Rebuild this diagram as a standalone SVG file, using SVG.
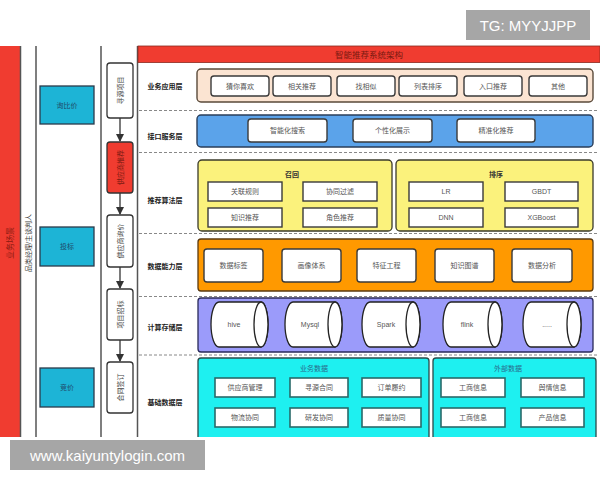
<svg xmlns="http://www.w3.org/2000/svg" width="600" height="480" viewBox="0 0 600 480">
<defs>
<marker id="arr" markerWidth="8" markerHeight="8" refX="7" refY="4" orient="auto" markerUnits="userSpaceOnUse">
<path d="M0,0 L8,4 L0,8 Z" fill="#333"/>
</marker>
<style>
text{font-family:'Liberation Sans','Noto Sans CJK SC',sans-serif;text-anchor:middle;dominant-baseline:central}
.lane{stroke:#555;stroke-width:1.5;fill:none}
.sep{stroke:#888;stroke-width:1;stroke-dasharray:3,2;fill:none}
.item{fill:#fff;stroke:#3a3a3a;stroke-width:1.4}
.it{font-size:7px;fill:#555}
.lbl{font-size:7px;font-weight:bold;fill:#222}
.ttl{font-size:7px;font-weight:bold;fill:#333}
.step{fill:#fff;stroke:#333;stroke-width:1.3}
.stept{font-size:7px;fill:#444}
.bluebox{fill:#1db4d6;stroke:#2a3a4a;stroke-width:1.3}
.cyl{fill:#fff;stroke:#222;stroke-width:1.3}
.teal{fill:#fff;stroke:#2a6a6a;stroke-width:1.6}
</style>
</defs>
<rect width="600" height="480" fill="#fff"/>

<!-- left swimlanes -->
<g id="lanes">
<rect x="0" y="46" width="20" height="391" fill="#f03c30"/>
<line class="lane" x1="20.5" y1="46" x2="20.5" y2="437"/>
<line class="lane" x1="36" y1="46" x2="36" y2="437"/>
<line class="lane" x1="101" y1="46" x2="101" y2="437"/>
<line class="lane" x1="137.5" y1="46" x2="137.5" y2="437"/>
<text x="10" y="243" transform="rotate(-90 10 243)" style="font-size:8px;fill:#8a1a10">业务场景</text>
<text x="28" y="243" transform="rotate(-90 28 243)" style="font-size:7px;fill:#444">品类经理/主谈判人</text>
</g>

<g id="n-xunbijia"><rect class="bluebox" x="40" y="86" width="54" height="38"/><text x="67" y="105" class="stept" style="fill:#1f4a6a">询比价</text></g>
<g id="n-toubiao"><rect class="bluebox" x="40" y="227" width="54" height="39"/><text x="67" y="246.5" class="stept" style="fill:#1f4a6a">投标</text></g>
<g id="n-jingjia"><rect class="bluebox" x="40" y="368" width="54" height="39"/><text x="67" y="387.5" class="stept" style="fill:#1f4a6a">竞价</text></g>

<g id="n-s1"><rect class="step" x="107" y="63" width="26" height="55" rx="3"/><text x="120" y="90.5" class="stept" transform="rotate(-90 120 90.5)">寻源项目</text></g>
<g id="n-s2"><rect x="107" y="142" width="26" height="51" rx="3" fill="#f03c30" stroke="#333" stroke-width="1.3"/><text x="120" y="167.5" class="stept" style="fill:#7a1a10" transform="rotate(-90 120 167.5)">供应商推荐</text></g>
<g id="n-s3"><rect class="step" x="107" y="215" width="26" height="52" rx="3"/><text x="120" y="241" class="stept" transform="rotate(-90 120 241)">供应商询价</text></g>
<g id="n-s4"><rect class="step" x="107" y="289" width="26" height="51" rx="3"/><text x="120" y="314.5" class="stept" transform="rotate(-90 120 314.5)">项目招标</text></g>
<g id="n-s5"><rect class="step" x="107" y="362" width="26" height="51" rx="3"/><text x="120" y="387.5" class="stept" transform="rotate(-90 120 387.5)">合同签订</text></g>

<g id="connectors" stroke="#333" stroke-width="1.3" fill="none">
<line x1="120" y1="118" x2="120" y2="141" marker-end="url(#arr)"/>
<line x1="120" y1="193" x2="120" y2="214" marker-end="url(#arr)"/>
<line x1="120" y1="267" x2="120" y2="288" marker-end="url(#arr)"/>
<line x1="120" y1="340" x2="120" y2="361" marker-end="url(#arr)"/>
</g>

<!-- header -->
<g id="header">
<rect x="138" y="46" width="462" height="16.5" fill="#f03c30" stroke="#8a2a20" stroke-width="0.8"/>
<text x="369" y="54.5" style="font-size:8.5px;fill:#7a1a10">智能推荐系统架构</text>
</g>

<!-- separators -->
<g id="separators">
<line class="sep" x1="139" y1="110.5" x2="598" y2="110.5"/>
<line class="sep" x1="139" y1="152.5" x2="598" y2="152.5"/>
<line class="sep" x1="139" y1="233.5" x2="598" y2="233.5"/>
<line class="sep" x1="139" y1="296.5" x2="598" y2="296.5"/>
<line class="sep" x1="139" y1="355" x2="598" y2="355"/>
</g>

<!-- layer labels -->
<g id="labels">
<text class="lbl" x="165" y="86">业务应用层</text>
<text class="lbl" x="165" y="136">接口服务层</text>
<text class="lbl" x="165" y="200">推荐算法层</text>
<text class="lbl" x="165" y="266">数据能力层</text>
<text class="lbl" x="165" y="327">计算存储层</text>
<text class="lbl" x="165" y="402">基础数据层</text>
</g>

<!-- row 1 -->
<g id="layer-app">
<rect x="197" y="69" width="396" height="33" rx="4" fill="#fbe4d2" stroke="#5a4a3a" stroke-width="1.4"/>
<rect class="item" x="211" y="76" width="58" height="20" rx="3"/><text class="it" x="240" y="86">猜你喜欢</text>
<rect class="item" x="273" y="76" width="58" height="20" rx="3"/><text class="it" x="302" y="86">相关推荐</text>
<rect class="item" x="337" y="76" width="58" height="20" rx="3"/><text class="it" x="366" y="86">找相似</text>
<rect class="item" x="399" y="76" width="58" height="20" rx="3"/><text class="it" x="428" y="86">列表排序</text>
<rect class="item" x="464" y="76" width="58" height="20" rx="3"/><text class="it" x="493" y="86">入口推荐</text>
<rect class="item" x="529" y="76" width="58" height="20" rx="3"/><text class="it" x="558" y="86">其他</text>
</g>

<!-- row 2 -->
<g id="layer-api">
<rect x="197" y="115" width="396" height="32" rx="4" fill="#5ba3ea" stroke="#2a3e5a" stroke-width="1.4"/>
<rect class="item" x="248" y="119" width="79" height="23" rx="3"/><text class="it" x="287.5" y="130.5">智能化搜索</text>
<rect class="item" x="353" y="119" width="79" height="23" rx="3"/><text class="it" x="392.5" y="130.5">个性化展示</text>
<rect class="item" x="457" y="119" width="78" height="23" rx="3"/><text class="it" x="496" y="130.5">精准化推荐</text>
</g>

<!-- row 3 -->
<g id="layer-algo">
<rect x="198" y="160" width="194" height="71" rx="4" fill="#fbf27c" stroke="#3a3a2a" stroke-width="1.3"/>
<text class="ttl" x="292" y="174">召回</text>
<rect class="item" x="208" y="182" width="74" height="19"/><text class="it" x="245" y="191.5">关联规则</text>
<rect class="item" x="303" y="182" width="74" height="19"/><text class="it" x="340" y="191.5">协同过滤</text>
<rect class="item" x="208" y="208" width="74" height="19"/><text class="it" x="245" y="217.5">知识推荐</text>
<rect class="item" x="303" y="208" width="74" height="19"/><text class="it" x="340" y="217.5">角色推荐</text>
<rect x="396" y="160" width="197" height="71" rx="4" fill="#fbf27c" stroke="#3a3a2a" stroke-width="1.3"/>
<text class="ttl" x="496" y="174">排序</text>
<rect class="item" x="409" y="182" width="74" height="19"/><text class="it" x="446" y="191.5">LR</text>
<rect class="item" x="505" y="182" width="73" height="19"/><text class="it" x="541.5" y="191.5">GBDT</text>
<rect class="item" x="409" y="208" width="74" height="19"/><text class="it" x="446" y="217.5">DNN</text>
<rect class="item" x="505" y="208" width="73" height="19"/><text class="it" x="541.5" y="217.5">XGBoost</text>
</g>

<!-- row 4 -->
<g id="layer-data">
<rect x="198" y="239" width="395" height="52" rx="3" fill="#ff9900" stroke="#5a3a10" stroke-width="1.3"/>
<rect class="item" x="204" y="249" width="59" height="33" rx="3"/><text class="it" x="233.5" y="265.5">数据标签</text>
<rect class="item" x="282" y="249" width="59" height="33" rx="3"/><text class="it" x="311.5" y="265.5">画像体系</text>
<rect class="item" x="357" y="249" width="59" height="33" rx="3"/><text class="it" x="386.5" y="265.5">特征工程</text>
<rect class="item" x="435" y="249" width="59" height="33" rx="3"/><text class="it" x="464.5" y="265.5">知识图谱</text>
<rect class="item" x="512" y="249" width="60" height="33" rx="3"/><text class="it" x="542" y="265.5">数据分析</text>
</g>

<!-- row 5 -->
<g id="layer-store">
<rect x="198" y="298" width="395" height="54" rx="3" fill="#9b9bfa" stroke="#2a2a5a" stroke-width="1.3"/>
<g id="cyl-hive"><path class="cyl" d="M219,302 L261,302 A7,22.5 0 0 1 261,347 L219,347 A8,22.5 0 0 1 219,302 Z"/><ellipse class="cyl" cx="261" cy="324.5" rx="7" ry="22.5"/><text class="it" x="234" y="324.5">hive</text></g>
<g id="cyl-mysql"><path class="cyl" d="M293,302 L335,302 A7,22.5 0 0 1 335,347 L293,347 A8,22.5 0 0 1 293,302 Z"/><ellipse class="cyl" cx="335" cy="324.5" rx="7" ry="22.5"/><text class="it" x="310" y="324.5">Mysql</text></g>
<g id="cyl-spark"><path class="cyl" d="M370,302 L413,302 A7,22.5 0 0 1 413,347 L370,347 A8,22.5 0 0 1 370,302 Z"/><ellipse class="cyl" cx="413" cy="324.5" rx="7" ry="22.5"/><text class="it" x="386" y="324.5">Spark</text></g>
<g id="cyl-flink"><path class="cyl" d="M451,302 L495,302 A7,22.5 0 0 1 495,347 L451,347 A8,22.5 0 0 1 451,302 Z"/><ellipse class="cyl" cx="495" cy="324.5" rx="7" ry="22.5"/><text class="it" x="467" y="324.5">flink</text></g>
<g id="cyl-more"><path class="cyl" d="M531,302 L574,302 A7,22.5 0 0 1 574,347 L531,347 A8,22.5 0 0 1 531,302 Z"/><ellipse class="cyl" cx="574" cy="324.5" rx="7" ry="22.5"/><text class="it" x="547" y="324.5">.....</text></g>
</g>

<!-- row 6 -->
<g id="layer-base">
<rect x="198" y="358" width="231" height="82" rx="3" fill="#1ef0f0" stroke="#2a4a4a" stroke-width="1.3"/>
<text class="it" x="314" y="368" style="fill:#2a6a8a">业务数据</text>
<rect class="teal" x="215" y="378" width="60" height="19"/><text class="it" x="245" y="387.5">供应商管理</text>
<rect class="teal" x="290" y="378" width="58" height="19"/><text class="it" x="319" y="387.5">寻源合同</text>
<rect class="teal" x="362" y="378" width="59" height="19"/><text class="it" x="391.5" y="387.5">订单履约</text>
<rect class="teal" x="215" y="408" width="60" height="19"/><text class="it" x="245" y="417.5">物流协同</text>
<rect class="teal" x="290" y="408" width="58" height="19"/><text class="it" x="319" y="417.5">研发协同</text>
<rect class="teal" x="362" y="408" width="59" height="19"/><text class="it" x="391.5" y="417.5">质量协同</text>
<rect x="433" y="358" width="163" height="82" rx="3" fill="#1ef0f0" stroke="#2a4a4a" stroke-width="1.3"/>
<text class="it" x="508" y="368" style="fill:#2a6a8a">外部数据</text>
<rect class="teal" x="441" y="378" width="64" height="19"/><text class="it" x="473" y="387.5">工商信息</text>
<rect class="teal" x="521" y="378" width="63" height="19"/><text class="it" x="552.5" y="387.5">舆情信息</text>
<rect class="teal" x="441" y="408" width="64" height="19"/><text class="it" x="473" y="417.5">工商信息</text>
<rect class="teal" x="521" y="408" width="63" height="19"/><text class="it" x="552.5" y="417.5">产品信息</text>
</g>

<rect x="0" y="437" width="600" height="43" fill="#fff"/>

<!-- watermarks -->
<g id="wm-tg">
<rect x="466" y="10" width="124" height="30" fill="#a6a6a6"/>
<text x="528" y="25.5" style="font-size:15px;fill:#fff;font-family:'Liberation Sans',sans-serif">TG: MYYJJPP</text>
</g>
<g id="wm-url">
<rect x="10" y="440" width="195" height="30" fill="#a6a6a6"/>
<text x="107.5" y="455.5" style="font-size:15px;fill:#fff;font-family:'Liberation Sans',sans-serif">www.kaiyuntylogin.com</text>
</g>
</svg>
